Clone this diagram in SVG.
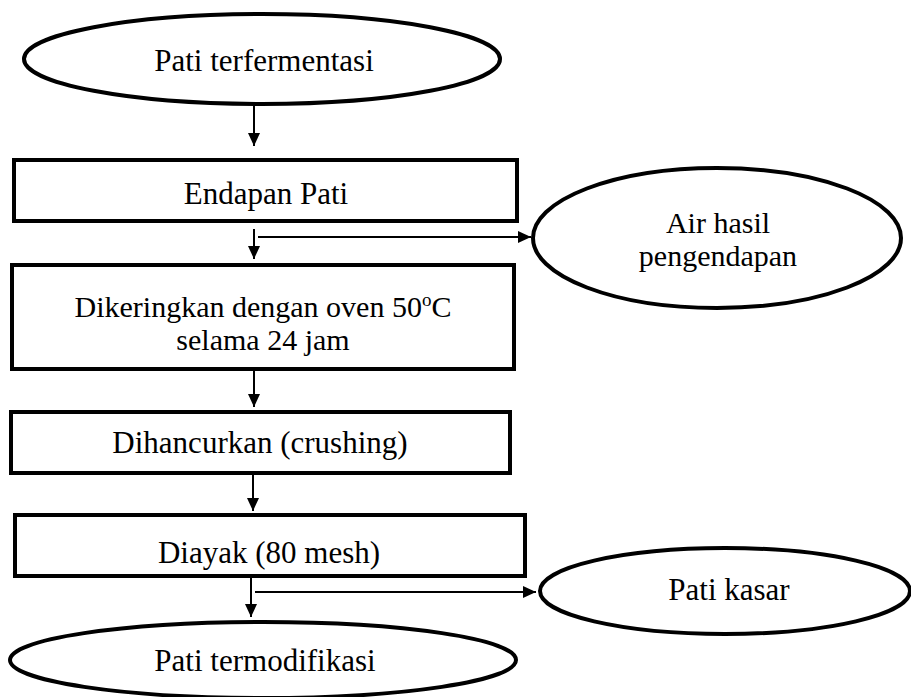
<svg xmlns="http://www.w3.org/2000/svg" width="911" height="697" viewBox="0 0 911 697">
<style>
.box{fill:#fff;stroke:#000;stroke-width:4}
.ell{fill:#fff;stroke:#000;stroke-width:4}
.t{font-size:31px;fill:#000;text-anchor:middle}
.t2{font-size:30px}
.ln{stroke:#000;stroke-width:2;fill:none}
</style>
<defs>
<marker id="ah" markerUnits="userSpaceOnUse" markerWidth="14" markerHeight="12" refX="13" refY="6" orient="auto">
<path d="M0,0 L13,6 L0,12 Z" fill="#000"/>
</marker>
</defs>
<g font-family="'Liberation Serif', 'Times New Roman', Tinos, 'DejaVu Serif', serif">
<g id="n1"><ellipse class="ell" cx="262" cy="59" rx="238" ry="45"/><text class="t" x="264" y="71">Pati terfermentasi</text></g>
<g id="n2"><rect class="box" x="14" y="160" width="503" height="61"/><text class="t" x="266" y="204">Endapan Pati</text></g>
<g id="n3"><ellipse class="ell" cx="717" cy="238" rx="184" ry="70"/><text class="t t2" x="718" y="233">Air hasil</text><text class="t t2" x="718" y="266">pengendapan</text></g>
<g id="n4"><rect class="box" x="12" y="265" width="502" height="104"/><text class="t t2" x="263" y="317">Dikeringkan dengan oven 50<tspan font-size="19" dy="-11">o</tspan><tspan dy="11">C</tspan></text><text class="t t2" x="263" y="350">selama 24 jam</text></g>
<g id="n5"><rect class="box" x="11" y="412" width="499" height="61"/><text class="t" x="260" y="453">Dihancurkan (crushing)</text></g>
<g id="n6"><rect class="box" x="15" y="515" width="510" height="61"/><text class="t" x="269" y="563">Diayak (80 mesh)</text></g>
<g id="n7"><ellipse class="ell" cx="725" cy="591" rx="185" ry="43"/><text class="t" x="729" y="600">Pati kasar</text></g>
<g id="n8"><ellipse class="ell" cx="263" cy="660" rx="253" ry="38"/><text class="t" x="265" y="671">Pati termodifikasi</text></g>
</g>
<g id="connectors">
<line class="ln" x1="254" y1="106" x2="254" y2="146" marker-end="url(#ah)"/>
<line class="ln" x1="254" y1="229" x2="254" y2="259" marker-end="url(#ah)"/>
<line class="ln" x1="258" y1="237" x2="531" y2="237" marker-end="url(#ah)"/>
<line class="ln" x1="254" y1="370" x2="254" y2="407" marker-end="url(#ah)"/>
<line class="ln" x1="253" y1="474" x2="253" y2="511" marker-end="url(#ah)"/>
<line class="ln" x1="251" y1="577" x2="251" y2="617" marker-end="url(#ah)"/>
<line class="ln" x1="255" y1="592" x2="536" y2="592" marker-end="url(#ah)"/>
</g>
</svg>
